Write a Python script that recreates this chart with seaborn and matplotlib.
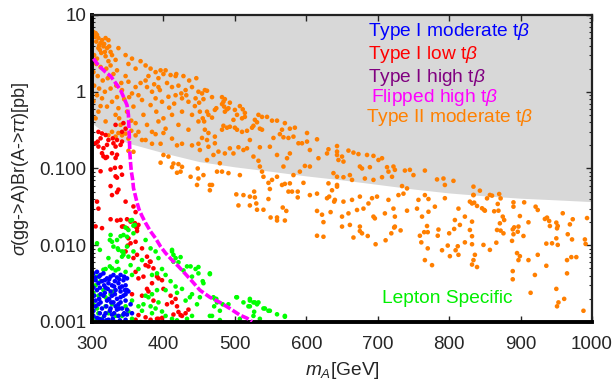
import matplotlib
matplotlib.use('Agg')
import matplotlib.pyplot as plt
import numpy as np
import pandas as pd
import seaborn as sns
from matplotlib.ticker import LogLocator, NullFormatter

# --- values (mA in GeV, sigma x BR in pb) ---

# upper edge of the white (allowed) region; grey above it
excl_mA = [300, 310, 330, 350, 400, 450, 500, 550, 600, 650, 700, 750, 800, 850, 900, 950, 1000]
excl_sigma = [0.39, 0.33, 0.26, 0.215, 0.16, 0.123, 0.105, 0.092, 0.080, 0.071, 0.062,
              0.054, 0.048, 0.044, 0.041, 0.039, 0.037]

# Flipped high tan(beta): thin band, drawn as a line
flip_mA = [302, 309, 319, 326, 333, 340, 344, 349, 351, 352, 353, 354, 355, 357, 358, 361, 363,
           366, 370, 375, 382, 389, 396, 403, 412, 421, 431, 440, 451, 465, 479, 493, 507, 517, 524]
flip_sigma = [2.7, 2.2, 1.8, 1.6, 1.3, 1.05, 0.86, 0.67, 0.5, 0.29, 0.158, 0.117, 0.092, 0.071,
              0.056, 0.043, 0.036, 0.029, 0.024, 0.0195, 0.0151, 0.0123, 0.0096, 0.0079, 0.0064,
              0.0053, 0.0042, 0.0034, 0.0026, 0.0021, 0.0018, 0.0015, 0.00123, 0.00112, 0.00101]

# Type II moderate tan(beta)
type2_pts = [
    (305, 5.8), (307, 5.5), (309, 5.0), (306, 4.5), (312, 4.3), (314, 4.7), (319, 5.0), (323, 4.7),
    (316, 3.9), (309, 3.7), (321, 3.7), (326, 3.3), (313, 3.2), (319, 2.9), (307, 2.7), (328, 3.0),
    (323, 2.5), (333, 2.6), (337, 3.7), (347, 3.0), (356, 2.7), (351, 2.3), (361, 2.0), (368, 2.5),
    (375, 2.2), (382, 2.0), (389, 1.8), (396, 1.9), (400, 1.7), (410, 1.65), (417, 1.6), (393, 1.5),
    (375, 1.4), (368, 1.3), (361, 1.15), (351, 1.35), (347, 1.6), (342, 1.05), (356, 0.95), (377, 1.15),
    (384, 1.0), (393, 1.15), (405, 1.3), (412, 1.15), (421, 1.2), (431, 1.05), (440, 1.15), (449, 1.0),
    (445, 0.82), (435, 0.74), (426, 0.82), (417, 0.9), (407, 0.86), (398, 0.74), (389, 0.82), (382, 0.67),
    (370, 0.78), (365, 0.9), (358, 0.64), (349, 0.55), (337, 0.61), (328, 0.74), (333, 0.50), (321, 0.64),
    (314, 0.82), (307, 0.9), (309, 0.55), (305, 0.45), (319, 0.41), (340, 0.37), (361, 0.39), (377, 0.37),
    (393, 0.41), (412, 0.50), (426, 0.55), (440, 0.50), (449, 0.41), (421, 0.37), (403, 0.33), (384, 0.30),
    (435, 0.32), (365, 0.30),
    (302, 6.0), (304, 5.2), (310, 4.0), (317, 4.2), (324, 3.9), (311, 3.5), (318, 3.3), (303, 3.0),
    (306, 2.3), (312, 2.1), (320, 2.0), (326, 2.2), (302, 1.8), (308, 1.6), (315, 1.4), (322, 1.5),
    (330, 1.7), (335, 1.9), (303, 1.2), (310, 1.1), (318, 1.0), (326, 1.1), (334, 1.2), (341, 1.3),
    (302, 0.75), (300, 0.48), (312, 0.65), (345, 0.8), (352, 0.85), (338, 0.45), (355, 0.42), (372, 0.5),
    (390, 0.55), (400, 0.45), (408, 0.62), (415, 0.7), (425, 0.95), (432, 0.9), (444, 0.65), (450, 0.72),
    (395, 1.05), (387, 1.25), (379, 1.6), (403, 1.9), (418, 1.7), (428, 1.6), (436, 1.4), (446, 1.5),
    (335, 0.85),
    (328, 0.30), (337, 0.29), (342, 0.27), (347, 0.285), (351, 0.245), (355, 0.31), (361, 0.27),
    (370, 0.235), (375, 0.235), (384, 0.21), (389, 0.28), (396, 0.21), (400, 0.29), (412, 0.245),
    (419, 0.20), (426, 0.21), (440, 0.20), (449, 0.21), (351, 0.17), (358, 0.165), (400, 0.15),
    (407, 0.143), (414, 0.116), (421, 0.114), (426, 0.105), (412, 0.104), (419, 0.088), (424, 0.091),
    (396, 0.119), (438, 0.078), (448, 0.10), (449, 0.074), (447, 0.061), (323, 0.27), (333, 0.26),
    (454, 0.95), (458, 1.05), (461, 1.03), (456, 0.80), (468, 0.85), (451, 0.55), (455, 0.45), (457, 0.41),
    (461, 0.55), (463, 0.50), (468, 0.46), (472, 0.58), (474, 0.61), (482, 0.85), (484, 0.74), (486, 0.80),
    (493, 0.72), (482, 0.69), (485, 0.64), (489, 0.59), (486, 0.55), (491, 0.61), (500, 0.58), (503, 0.50),
    (507, 0.65), (511, 0.59), (514, 0.53), (510, 0.45), (514, 0.47), (498, 0.43), (493, 0.35), (484, 0.36),
    (482, 0.32), (489, 0.34), (500, 0.34), (503, 0.32), (510, 0.30), (517, 0.31), (524, 0.34), (526, 0.36),
    (531, 0.40), (533, 0.50), (538, 0.47), (545, 0.47), (528, 0.43), (535, 0.33), (538, 0.32), (552, 0.42),
    (559, 0.42), (570, 0.39), (577, 0.33), (584, 0.34), (566, 0.32), (554, 0.25), (563, 0.28), (568, 0.255),
    (575, 0.25), (582, 0.26), (589, 0.213), (601, 0.29), (594, 0.213), (601, 0.224), (605, 0.174),
    (615, 0.24), (631, 0.178), (643, 0.196), (629, 0.157), (643, 0.15), (638, 0.087), (617, 0.136),
    (605, 0.106), (598, 0.108), (591, 0.091), (582, 0.082), (568, 0.106), (559, 0.078), (552, 0.071),
    (547, 0.065), (540, 0.078), (538, 0.091), (535, 0.106), (533, 0.126), (526, 0.143), (517, 0.183),
    (505, 0.189), (493, 0.183), (486, 0.157), (477, 0.166), (472, 0.213), (463, 0.192), (461, 0.235),
    (463, 0.29), (472, 0.26), (458, 0.32), (454, 0.25), (451, 0.174), (470, 0.15), (461, 0.129),
    (479, 0.117), (498, 0.157), (512, 0.174), (521, 0.235), (535, 0.189), (549, 0.192), (559, 0.15),
    (573, 0.136), (577, 0.157), (475, 0.091), (482, 0.091), (491, 0.087), (507, 0.082), (456, 0.082),
    (468, 0.061), (577, 0.064), (596, 0.065), (631, 0.064), (643, 0.058), (566, 0.061), (570, 0.063),
    (643, 0.166), (659, 0.171), (666, 0.161), (673, 0.154), (685, 0.15), (694, 0.146), (706, 0.136),
    (650, 0.143), (652, 0.123), (645, 0.129), (675, 0.106), (678, 0.1), (689, 0.104), (701, 0.129),
    (713, 0.104), (722, 0.106), (715, 0.091), (724, 0.096), (738, 0.094), (745, 0.096), (766, 0.094),
    (750, 0.082), (643, 0.078), (652, 0.077), (661, 0.082), (664, 0.071), (682, 0.074), (694, 0.071),
    (706, 0.077), (720, 0.078), (734, 0.059), (741, 0.055), (783, 0.072), (792, 0.074), (806, 0.069),
    (794, 0.061), (834, 0.058), (766, 0.045), (771, 0.040), (757, 0.039), (755, 0.030), (729, 0.045),
    (736, 0.047), (715, 0.039), (692, 0.041), (675, 0.043), (664, 0.039), (652, 0.037), (643, 0.061),
    (640, 0.039), (650, 0.0236), (659, 0.026), (671, 0.0288), (680, 0.030), (687, 0.035), (699, 0.043),
    (696, 0.0224), (694, 0.0236), (710, 0.026), (722, 0.030), (724, 0.0236), (741, 0.0282), (762, 0.0236),
    (771, 0.0273), (780, 0.0318), (794, 0.041), (813, 0.030), (808, 0.0213), (822, 0.0236), (832, 0.035),
    (834, 0.045), (650, 0.0175), (675, 0.0175), (724, 0.0175),
    (843, 0.0514), (834, 0.0452), (853, 0.0408), (857, 0.0452), (860, 0.0443), (870, 0.0465), (872, 0.0408),
    (829, 0.037), (835, 0.0359), (839, 0.0325), (846, 0.0303), (849, 0.0288), (850, 0.0282), (869, 0.0282),
    (863, 0.0277), (868, 0.0345), (890, 0.0362), (890, 0.0318), (905, 0.0362), (921, 0.0318), (924, 0.0288),
    (959, 0.0261), (899, 0.024), (875, 0.0236), (877, 0.0213), (871, 0.0193), (832, 0.0203), (867, 0.0158),
    (872, 0.0155), (876, 0.0143), (889, 0.0161), (891, 0.0171), (897, 0.0175), (896, 0.015), (890, 0.0139),
    (904, 0.0132), (911, 0.0199), (934, 0.022), (937, 0.0229), (940, 0.0207), (941, 0.0178), (950, 0.0197),
    (952, 0.0178), (951, 0.0166), (969, 0.0187), (973, 0.0218), (993, 0.0226), (966, 0.0139), (972, 0.0119),
    (990, 0.0119), (991, 0.0104), (950, 0.0123), (944, 0.0106), (936, 0.0105), (952, 0.0101), (888, 0.0114),
    (866, 0.0108), (848, 0.0101), (857, 0.0087), (839, 0.0052), (895, 0.0079), (899, 0.0072), (897, 0.0064),
    (911, 0.0064), (924, 0.0075), (936, 0.0054), (965, 0.0064), (971, 0.007), (978, 0.007), (889, 0.0046),
    (889, 0.0036), (920, 0.0041), (965, 0.0043), (914, 0.0024), (950, 0.0027), (961, 0.002), (953, 0.0018),
    (951, 0.0016), (988, 0.0014),
    (465, 0.061), (465, 0.052), (502, 0.046), (512, 0.045), (521, 0.043), (527, 0.050), (528, 0.042),
    (530, 0.035), (521, 0.033), (505, 0.033), (531, 0.029), (540, 0.029), (547, 0.040), (549, 0.054),
    (550, 0.023), (559, 0.023), (559, 0.021), (570, 0.021), (572, 0.028), (567, 0.031), (575, 0.050),
    (580, 0.050), (588, 0.050), (588, 0.042), (605, 0.045), (615, 0.047), (629, 0.041), (632, 0.043),
    (636, 0.052), (639, 0.037), (615, 0.028), (622, 0.025), (624, 0.020), (634, 0.027), (615, 0.0133),
    (624, 0.0129),
    (661, 0.0184), (666, 0.0126), (675, 0.0153), (678, 0.0143), (686, 0.0132), (697, 0.0103), (711, 0.0116),
    (719, 0.0143), (723, 0.017), (732, 0.0156), (759, 0.0133), (761, 0.0109), (765, 0.0148), (770, 0.0148),
    (770, 0.0091), (766, 0.0064), (776, 0.0055), (769, 0.0178), (785, 0.016), (784, 0.0133), (790, 0.0086),
    (798, 0.0099), (801, 0.0072), (800, 0.0143), (807, 0.0163), (809, 0.0086), (812, 0.0097), (813, 0.0075),
    (815, 0.0184), (822, 0.0109), (829, 0.0158), (832, 0.0131), (832, 0.0103), (834, 0.0064), (832, 0.0056),
    (836, 0.0075),
]

# Type I low tan(beta)
type1_low_pts = [
    (309, 0.30), (333, 0.37), (344, 0.39), (347, 0.33), (342, 0.30),
    (305, 0.213), (308, 0.224), (312, 0.247), (314, 0.286), (319, 0.273), (309, 0.193), (316, 0.184),
    (321, 0.203), (323, 0.235), (329, 0.247), (330, 0.213), (333, 0.193), (335, 0.235), (340, 0.203),
    (342, 0.224), (314, 0.158), (319, 0.137), (316, 0.144), (321, 0.141), (328, 0.158), (335, 0.151),
    (333, 0.137), (312, 0.092), (326, 0.097), (332, 0.102), (340, 0.104), (333, 0.079), (335, 0.076),
    (342, 0.083), (326, 0.059), (337, 0.053), (335, 0.049), (328, 0.045), (347, 0.037), (307, 0.037),
    (309, 0.030), (358, 0.032), (361, 0.027), (326, 0.0218), (335, 0.021), (340, 0.0214), (349, 0.0218),
    (354, 0.0203), (360, 0.0194), (365, 0.0184), (344, 0.0176), (363, 0.0167), (314, 0.0167), (305, 0.0176),
    (342, 0.0175), (349, 0.0166), (361, 0.0175), (363, 0.0153), (351, 0.0123), (354, 0.0106), (350, 0.0099),
    (361, 0.0111), (347, 0.0083), (358, 0.0068), (363, 0.0075), (370, 0.0091), (377, 0.0071), (382, 0.0061),
    (379, 0.0053), (375, 0.0055), (361, 0.0045), (365, 0.0037), (372, 0.0039), (384, 0.0032), (393, 0.0037),
    (398, 0.0035), (377, 0.0027), (379, 0.0025), (400, 0.0027), (410, 0.0022), (417, 0.0020), (412, 0.0018),
    (419, 0.0016), (421, 0.00135), (414, 0.00125), (424, 0.00123), (398, 0.00113), (393, 0.0011),
    (382, 0.00107), (375, 0.00115), (365, 0.00123), (361, 0.00107), (370, 0.00097), (431, 0.0013),
    (435, 0.00145), (356, 0.0023), (370, 0.0022), (386, 0.0019), (381, 0.0061), (386, 0.005), (391, 0.0039),
    (405, 0.0017), (426, 0.0012), (391, 0.0011),
]

# Lepton specific
lepton_pts = [
    (354, 0.021), (358, 0.018), (347, 0.017), (356, 0.0213), (360, 0.0184), (351, 0.0158), (349, 0.0129),
    (358, 0.0143), (307, 0.0106), (325, 0.0117), (330, 0.0096), (337, 0.0087), (344, 0.0082), (342, 0.0071),
    (335, 0.0061), (325, 0.0053), (316, 0.0048), (307, 0.0039), (311, 0.0087),
    (326, 0.0136), (328, 0.0111), (335, 0.0117), (340, 0.0131), (344, 0.0136), (323, 0.0068), (336, 0.0091),
    (342, 0.0083), (349, 0.0096), (344, 0.0075), (351, 0.0071), (358, 0.0083), (354, 0.0055), (337, 0.0049),
    (328, 0.005), (333, 0.0047), (319, 0.0049), (347, 0.0045), (356, 0.0041), (365, 0.0049), (370, 0.0064),
    (375, 0.0117), (382, 0.0091), (389, 0.0083), (393, 0.0068), (384, 0.0041), (391, 0.0043), (398, 0.0049),
    (403, 0.0041), (412, 0.0083), (417, 0.0068), (421, 0.006), (424, 0.007), (428, 0.0047), (438, 0.0053),
    (440, 0.0039), (445, 0.0049), (449, 0.0043), (410, 0.0034), (417, 0.0029), (426, 0.0027), (440, 0.0023),
    (431, 0.0019), (419, 0.0024), (403, 0.0026), (391, 0.0026), (384, 0.0023), (379, 0.0021), (375, 0.0022),
    (372, 0.0017), (382, 0.0016), (389, 0.0015), (393, 0.0018), (398, 0.00137), (403, 0.0012), (384, 0.0013),
    (370, 0.0014), (365, 0.0016), (356, 0.0019), (351, 0.00137), (347, 0.0016), (342, 0.0012), (337, 0.0015),
    (333, 0.0012), (328, 0.0017), (323, 0.0013), (319, 0.0016), (314, 0.0011), (309, 0.0013), (307, 0.0015),
    (305, 0.0011), (302, 0.0017), (302, 0.0024), (305, 0.003), (312, 0.0034), (316, 0.0026), (309, 0.0022),
    (319, 0.0021), (326, 0.0023), (330, 0.0025), (300, 0.0013), (433, 0.0011), (440, 0.0012), (412, 0.0011),
    (356, 0.0011), (368, 0.001), (419, 0.00105),
    (412, 0.0087), (414, 0.0075), (414, 0.0061), (433, 0.0053), (449, 0.0052), (465, 0.0043), (456, 0.0032),
    (451, 0.0021), (470, 0.0021), (475, 0.0018), (503, 0.0021), (521, 0.0019), (526, 0.0018), (531, 0.0017),
    (519, 0.0016), (542, 0.0015), (547, 0.0014), (570, 0.0012), (535, 0.0011), (468, 0.0012), (447, 0.0017),
    (437, 0.0021), (479, 0.0014),
    (465, 0.0042), (455, 0.0034), (502, 0.0021), (521, 0.002), (533, 0.0018), (512, 0.0018), (528, 0.0018),
    (521, 0.0016), (540, 0.0015), (549, 0.0014), (559, 0.00126), (570, 0.00117), (527, 0.00136),
    (526, 0.0012), (472, 0.002), (474, 0.002), (471, 0.0016), (465, 0.0012), (483, 0.0017), (491, 0.0017),
    (479, 0.00106), (507, 0.0011),
]

# Type I moderate tan(beta)
type1_mod_pts = [
    (302, 0.0043), (307, 0.0045), (312, 0.0041), (316, 0.0043), (321, 0.0037), (326, 0.0039), (330, 0.0041),
    (335, 0.0038), (340, 0.0041), (344, 0.0035), (349, 0.0037), (305, 0.0035), (309, 0.0032), (314, 0.0034),
    (323, 0.0032), (328, 0.003), (337, 0.0032), (342, 0.0029), (347, 0.003), (302, 0.0028), (307, 0.0026),
    (319, 0.0028), (326, 0.0025), (333, 0.0026), (340, 0.0025), (349, 0.0026), (312, 0.0023), (316, 0.0022),
    (328, 0.0022), (335, 0.002), (344, 0.0022), (305, 0.0019), (321, 0.0019), (330, 0.0018), (337, 0.0017),
    (347, 0.0019), (309, 0.0017), (314, 0.0015), (326, 0.0015), (335, 0.00145), (342, 0.0015), (349, 0.00145),
    (302, 0.0014), (319, 0.0013), (328, 0.00125), (337, 0.0012), (344, 0.00125), (307, 0.00113),
    (314, 0.00107), (323, 0.00107), (333, 0.001), (347, 0.00107), (351, 0.0025), (354, 0.0017),
    (356, 0.0013), (349, 0.00125),
    (304, 0.0038), (310, 0.0039), (318, 0.0035), (324, 0.0036), (332, 0.0034), (338, 0.0036), (345, 0.0039),
    (311, 0.0028), (317, 0.003), (322, 0.0027), (331, 0.0029), (339, 0.0028), (346, 0.0026), (303, 0.0022),
    (310, 0.002), (318, 0.0024), (324, 0.002), (332, 0.0023), (340, 0.0021), (347, 0.0023), (312, 0.0018),
    (320, 0.0016), (327, 0.0018), (333, 0.0016), (340, 0.0018), (305, 0.0016), (311, 0.0013), (317, 0.0012),
    (325, 0.0014), (331, 0.0013), (338, 0.0015), (345, 0.0013), (302, 0.0012), (310, 0.0011), (320, 0.00105),
    (329, 0.0011), (339, 0.00105),
]

series = [
    ('Type II moderate', type2_pts),
    ('Type I low', type1_low_pts),
    ('Lepton Specific', lepton_pts),
    ('Type I moderate', type1_mod_pts),
]
palette = {
    'Type II moderate': '#ff7f00',
    'Type I low': '#ff0000',
    'Lepton Specific': '#00ff00',
    'Type I moderate': '#0000ff',
}

frames = []
for name, pts in series:
    arr = np.array(pts, dtype=float)
    frames.append(pd.DataFrame({'mA': arr[:, 0], 'sigma': arr[:, 1], 'model': name}))
df = pd.concat(frames, ignore_index=True)

sns.set_style('ticks')
plt.rcParams['font.family'] = ['Liberation Sans', 'DejaVu Sans']
plt.rcParams['mathtext.fontset'] = 'custom'
plt.rcParams['mathtext.rm'] = 'Liberation Sans'
plt.rcParams['mathtext.it'] = 'Liberation Sans:italic'
plt.rcParams['mathtext.bf'] = 'Liberation Sans:bold'

fig = plt.figure(figsize=(6.13, 3.83), dpi=100)
ax = fig.add_axes([0.1501, 0.1593, 0.8157, 0.8016])

ax.fill_between(excl_mA, excl_sigma, 10, color='#d8d8d8', lw=0, zorder=0)

sns.scatterplot(data=df, x='mA', y='sigma', hue='model', palette=palette,
                s=11, linewidth=0, legend=False, ax=ax, zorder=2)
ax.plot(flip_mA, flip_sigma, color='#ff00ff', lw=2.6, ls=(0, (2.2, 0.7)), zorder=3)

ax.set_yscale('log')
ax.set_xlim(300, 1000)
ax.set_ylim(1e-3, 10)
ax.set_xticks(range(300, 1001, 100))
ax.set_yticks([1e-3, 1e-2, 1e-1, 1, 10], ['0.001', '0.010', '0.100', '1', '10'])
ax.yaxis.set_minor_locator(LogLocator(base=10, subs=np.arange(2, 10)))
ax.yaxis.set_minor_formatter(NullFormatter())
ax.tick_params(which='both', direction='in', top=True, right=True, labelsize=13.5)
ax.tick_params(which='major', length=4.5, width=1.0)
ax.tick_params(which='minor', length=2.5, width=0.8)
ax.tick_params(axis='x', pad=10)
ax.tick_params(axis='y', pad=4)

for side in ['left', 'bottom']:
    ax.spines[side].set_linewidth(2.8)
    ax.spines[side].set_color('black')
for side in ['top', 'right']:
    ax.spines[side].set_linewidth(1.6)
    ax.spines[side].set_color('#222222')

ax.set_xlabel('$m_A$[GeV]', fontsize=13.8, labelpad=5)
ax.set_ylabel(r'$\sigma$(gg->A)Br(A->$\tau\tau$)[pb]', fontsize=13, labelpad=6)

labels = [
    ('Type I moderate t$\\beta$', '#0000ff', 0.552, 0.945),
    ('Type I low t$\\beta$', '#ff0000', 0.552, 0.870),
    ('Type I high t$\\beta$', '#800080', 0.552, 0.795),
    ('Flipped high t$\\beta$', '#ff00ff', 0.558, 0.730),
    ('Type II moderate t$\\beta$', '#ff8000', 0.548, 0.665),
]
for txt, col, x, y in labels:
    ax.text(x, y, txt, color=col, fontsize=13.8, transform=ax.transAxes, ha='left', va='center')
ax.text(0.58, 0.075, 'Lepton Specific', color='#00ee00', fontsize=13.8,
        transform=ax.transAxes, ha='left', va='center')

fig.savefig('out.png', dpi=100)
